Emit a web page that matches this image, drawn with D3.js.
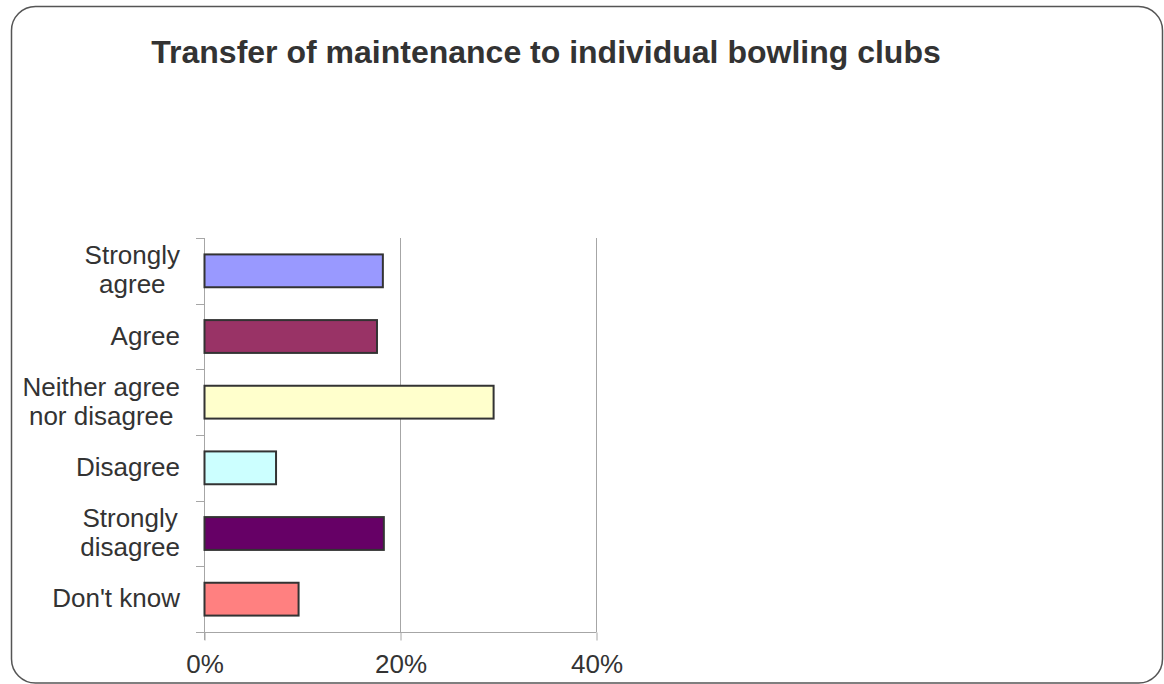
<!DOCTYPE html>
<html>
<head>
<meta charset="utf-8">
<script src="https://cdn.jsdelivr.net/npm/d3@7"></script>
<style>
  html, body { margin: 0; padding: 0; background: #fff; }
  svg { display: block; }
</style>
</head>
<body>
<svg id="chart" width="1164" height="684"></svg>
<script>
const categories = [
  ["Strongly", "agree"],
  ["Agree"],
  ["Neither agree", "nor disagree"],
  ["Disagree"],
  ["Strongly", "disagree"],
  ["Don't know"]
];
const values = [18.2, 17.6, 29.5, 7.3, 18.3, 9.6];
const colors = ["#9999FF", "#993366", "#FFFFCC", "#CCFFFF", "#660066", "#FF8080"];
const xTicks = [0, 20, 40];
const title = "Transfer of maintenance to individual bowling clubs";

const svg = d3.select("#chart");
const font = "'Liberation Sans', Arial, sans-serif";

// border
svg.append("rect")
  .attr("x", 11.5).attr("y", 6.5)
  .attr("width", 1151).attr("height", 676.5)
  .attr("rx", 24).attr("ry", 24)
  .attr("fill", "#fff").attr("stroke", "#555").attr("stroke-width", 1.5);

// title
svg.append("text")
  .attr("x", 546).attr("y", 63)
  .attr("text-anchor", "middle")
  .attr("font-family", font).attr("font-weight", "bold")
  .attr("font-size", 32).attr("fill", "#333")
  .text(title);

const x0 = 204, x1 = 596, yTop = 238, yBot = 632;
const x = d3.scaleLinear().domain([0, 40]).range([x0, x1]);
const y = d3.scaleBand().domain(d3.range(categories.length))
  .range([yTop, yBot]).paddingInner(0.5).paddingOuter(0.25);

const grid = "#a6a6a6";

// gridlines (vertical)
svg.append("g").selectAll("line").data(xTicks.slice(1)).join("line")
  .attr("x1", d => x(d) + 0.5).attr("x2", d => x(d) + 0.5)
  .attr("y1", yTop).attr("y2", yBot)
  .attr("stroke", grid).attr("stroke-width", 1);

// x axis
const xAxis = svg.append("g").attr("transform", `translate(0.5,${yBot + 0.5})`)
  .call(d3.axisBottom(x).tickValues(xTicks).tickSize(8).tickFormat(d => d + "%"));
xAxis.select(".domain").remove();
xAxis.selectAll(".tick line").attr("stroke", grid);
xAxis.selectAll(".tick text")
  .attr("font-family", font).attr("font-size", 26).attr("fill", "#333")
  .attr("dy", 0).attr("y", 40);
svg.append("line")
  .attr("x1", x0 - 8).attr("x2", x1 + 0.5)
  .attr("y1", yBot + 0.5).attr("y2", yBot + 0.5)
  .attr("stroke", grid);

// y axis line and ticks at band boundaries
svg.append("line")
  .attr("x1", x0 + 0.5).attr("x2", x0 + 0.5)
  .attr("y1", yTop).attr("y2", yBot + 8)
  .attr("stroke", grid);
const step = y.step();
const boundaries = d3.range(categories.length).map(i => y(i) - step * 0.25);
svg.append("g").selectAll("line").data(boundaries).join("line")
  .attr("x1", x0 - 8).attr("x2", x0)
  .attr("y1", d => Math.round(d) + 0.5).attr("y2", d => Math.round(d) + 0.5)
  .attr("stroke", grid);

// bars
svg.append("g").selectAll("rect").data(values).join("rect")
  .attr("x", x(0) + 0.5)
  .attr("y", (d, i) => y(i))
  .attr("width", d => x(d) - x(0))
  .attr("height", y.bandwidth())
  .attr("fill", (d, i) => colors[i])
  .attr("stroke", "#333").attr("stroke-width", 2);

// category labels
const labelRight = 180;
categories.forEach((lines, i) => {
  const cy = y(i) + y.bandwidth() / 2;
  const g = svg.append("g");
  const texts = lines.map((ln, j) => {
    const baseline = lines.length === 1 ? cy + 8 : cy - 6.5 + j * 29;
    return g.append("text")
      .attr("y", baseline)
      .attr("text-anchor", "middle")
      .attr("font-family", font).attr("font-size", 26).attr("fill", "#333")
      .text(ln);
  });
  const maxW = d3.max(texts, t => t.node().getComputedTextLength());
  texts.forEach(t => t.attr("x", labelRight - maxW / 2));
});
</script>
</body>
</html>
